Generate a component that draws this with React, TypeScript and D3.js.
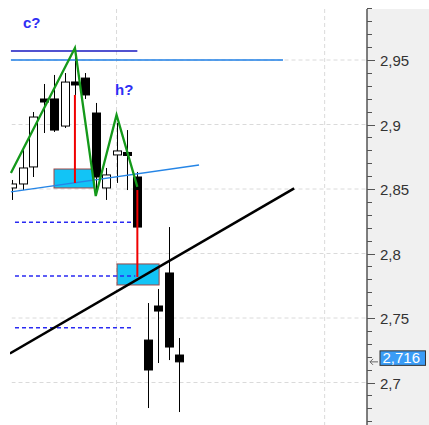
import React from "react";
import * as d3 from "d3";

// ---- data ----
const candleIndex = [0, 1, 2, 3, 4, 5, 6, 7, 8, 9, 10, 11, 12, 13, 14, 15, 16];
const opens = [2.8508, 2.8539, 2.8671, 2.9190, 2.9198, 2.8988, 2.9322, 2.9360, 2.9089, 2.8508, 2.8764, 2.8779, 2.8593, 2.7329, 2.7593, 2.7849, 2.7213];
const highs = [2.8570, 2.8802, 2.9097, 2.9314, 2.9384, 2.9399, 2.9578, 2.9399, 2.9167, 2.8663, 2.9012, 2.8957, 2.8632, 2.7616, 2.7725, 2.8205, 2.7345];
const lows = [2.8415, 2.8492, 2.8593, 2.8934, 2.8942, 2.8973, 2.9229, 2.9198, 2.8477, 2.8415, 2.8547, 2.8492, 2.8190, 2.6802, 2.7151, 2.7174, 2.6771];
const closes = [2.8539, 2.8663, 2.9058, 2.9182, 2.8957, 2.9329, 2.9314, 2.9229, 2.8593, 2.8609, 2.8795, 2.8764, 2.8205, 2.7097, 2.7554, 2.7275, 2.716];

const majorTicks = [2.7, 2.75, 2.8, 2.85, 2.9, 2.95];
const tickLabels = ["2,7", "2,75", "2,8", "2,85", "2,9", "2,95"];
const minorTicks = [2.67, 2.68, 2.69, 2.71, 2.72, 2.73, 2.74, 2.76, 2.77, 2.78, 2.79, 2.81, 2.82, 2.83, 2.84, 2.86, 2.87, 2.88, 2.89, 2.91, 2.92, 2.93, 2.94, 2.96, 2.97, 2.98, 2.99];
const verticalGrid = [10, 30];
const lastPrice = 2.716;
const lastPriceLabel = "2,716";

// zigzag pattern points [index, price]
const zigzag: [number, number][] = [[-0.15, 2.8624], [6, 2.9593], [8, 2.8446], [10, 2.9074], [12, 2.8516]];
// horizontal lines [from, to, price]
const darkBlueLine: [number, number, number] = [-0.15, 12, 2.957];
const lightBlueLine: [number, number, number] = [-0.15, 26, 2.95];
const dashedLevels: [number, number, number][] = [[0.24, 11.6, 2.8242], [0.24, 11.8, 2.7826], [0.24, 11.6, 2.7425]];
// trend lines [[i1,p1],[i2,p2]]
const blueTrend: [number, number][] = [[-0.15, 2.8477], [17.93, 2.8686]];
const blackTrend: [number, number][] = [[-0.25, 2.7225], [27.07, 2.8505]];
// boxes [i1, i2, pTop, pBottom]
const boxes: [number, number, number, number][] = [[3.99, 7.84, 2.8655, 2.8508], [10.05, 14.09, 2.7919, 2.7756]];
// red vertical lines [i, pTop, pBottom]
const redLines: [number, number, number][] = [[6, 2.9229, 2.8547], [12, 2.8492, 2.7818]];
// labels [i, price, text]
const labels: [number, number, string][] = [[1.0, 2.9745, "c?"], [9.85, 2.9225, "h?"]];

const W = 429;
const H = 425;
const plotLeft = 11.5;
const plotRight = 367;
const plotTop = 9;

export default function App() {
  const x = d3.scaleLinear().domain([-1.2, 34.07]).range([0, 367]);
  const y = d3.scaleLinear().domain([2.95, 2.7]).range([60, 382.5]);
  const bodyW = 8;
  const line = d3.line<[number, number]>().x((d) => x(d[0])).y((d) => y(d[1]));

  return (
    <svg
      width={W}
      height={H}
      style={{ position: "absolute", left: 0, top: 0, background: "#fff" }}
      fontFamily="'Liberation Sans', Arial, sans-serif"
    >
      <defs>
        <clipPath id="plotClip">
          <rect x={plotLeft - 1.5} y={plotTop} width={plotRight - plotLeft + 1.5} height={H - plotTop} />
        </clipPath>
        <clipPath id="candleClip">
          <rect x={plotLeft} y={plotTop} width={plotRight - plotLeft} height={H - plotTop} />
        </clipPath>
      </defs>
      {/* axis panel */}
      <rect x={plotRight} y={plotTop} width={W - plotRight} height={H - plotTop} fill="#f0f0f0" />

      <g clipPath="url(#candleClip)">
        {/* grid */}
        {majorTicks.map((t) => (
          <line key={"hg" + t} x1={plotLeft} x2={plotRight} y1={y(t)} y2={y(t)} stroke="#dadada" strokeDasharray="4,3" />
        ))}
        {verticalGrid.map((g) => (
          <line key={"vg" + g} x1={x(g)} x2={x(g)} y1={plotTop} y2={H} stroke="#dadada" strokeDasharray="4,3" />
        ))}

        {/* boxes */}
        {boxes.map((b, k) => (
          <rect
            key={"box" + k}
            x={x(b[0])}
            y={y(b[2])}
            width={x(b[1]) - x(b[0])}
            height={y(b[3]) - y(b[2])}
            fill="#12c4f6"
            stroke="#a04545"
            strokeWidth={1}
          />
        ))}

        {/* candles */}
        {candleIndex.map((i) => {
          const o = opens[i];
          const c = closes[i];
          const up = c > o;
          const top = y(Math.max(o, c));
          let h = Math.abs(y(o) - y(c));
          let yt = top;
          if (h < 3) {
            yt = (y(o) + y(c)) / 2 - 1.5;
            h = 3;
          }
          const cx = Math.round(x(i)) + 0.5;
          return (
            <g key={"c" + i}>
              <line x1={cx} x2={cx} y1={y(highs[i])} y2={y(lows[i])} stroke="#000" strokeWidth={1} />
              <rect
                x={cx - bodyW / 2}
                y={yt}
                width={bodyW}
                height={h}
                fill={up ? "#fff" : "#000"}
                stroke="#000"
                strokeWidth={1}
              />
            </g>
          );
        })}
      </g>

      <g clipPath="url(#plotClip)">
        {/* horizontal lines */}
        <line x1={x(lightBlueLine[0])} x2={x(lightBlueLine[1])} y1={y(lightBlueLine[2])} y2={y(lightBlueLine[2])} stroke="#1f7fe6" strokeWidth={1.3} />
        <line x1={x(darkBlueLine[0])} x2={x(darkBlueLine[1])} y1={y(darkBlueLine[2])} y2={y(darkBlueLine[2])} stroke="#1818c0" strokeWidth={1.6} />
        {dashedLevels.map((d, k) => (
          <line key={"dl" + k} x1={x(d[0])} x2={x(d[1])} y1={y(d[2])} y2={y(d[2])} stroke="#2a2af2" strokeWidth={1.5} strokeDasharray="4,3" />
        ))}

        {/* trend lines */}
        <path d={line(blueTrend) || ""} fill="none" stroke="#2585e6" strokeWidth={1.3} />
        <path d={line(blackTrend) || ""} fill="none" stroke="#000" strokeWidth={2.6} />

        {/* red lines */}
        {redLines.map((r, k) => (
          <line key={"rl" + k} x1={x(r[0])} x2={x(r[0])} y1={y(r[1])} y2={y(r[2])} stroke="#f00000" strokeWidth={2} />
        ))}

        {/* zigzag */}
        <path d={line(zigzag) || ""} fill="none" stroke="#14991a" strokeWidth={2.3} strokeLinejoin="miter" />

        {/* labels */}
        {labels.map((l, k) => (
          <text key={"lb" + k} x={x(l[0])} y={y(l[1])} fill="#2f2ff4" fontSize={15} fontWeight="bold">
            {l[2]}
          </text>
        ))}
      </g>

      {/* axis */}
      <line x1={plotRight} x2={plotRight} y1={plotTop} y2={H} stroke="#555" strokeWidth={1.5} />
      {minorTicks.map((t) => (
        <line key={"mt" + t} x1={plotRight} x2={plotRight + 5} y1={Math.round(y(t)) + 0.5} y2={Math.round(y(t)) + 0.5} stroke="#555" />
      ))}
      {majorTicks.map((t, k) => (
        <g key={"Mt" + t}>
          <line x1={plotRight} x2={plotRight + 8} y1={Math.round(y(t)) + 0.5} y2={Math.round(y(t)) + 0.5} stroke="#555" />
          <text x={380} y={y(t) + 6} fontSize={15} fill="#333">
            {tickLabels[k]}
          </text>
        </g>
      ))}

      {/* last price marker */}
      <path
        d={`M${plotRight + 11},${y(lastPrice)} H${plotRight + 3} M${plotRight + 6},${y(lastPrice) - 3} L${plotRight + 3},${y(lastPrice)} L${plotRight + 6},${y(lastPrice) + 3}`}
        fill="none"
        stroke="#666"
        strokeWidth={1}
      />
      <rect x={380} y={y(lastPrice) - 11} width={45.5} height={14.5} fill="#3a9cf6" stroke="#333" strokeWidth={1} />
      <text x={382.5} y={y(lastPrice) + 1} fontSize={15} fill="#fff">
        {lastPriceLabel}
      </text>
    </svg>
  );
}
